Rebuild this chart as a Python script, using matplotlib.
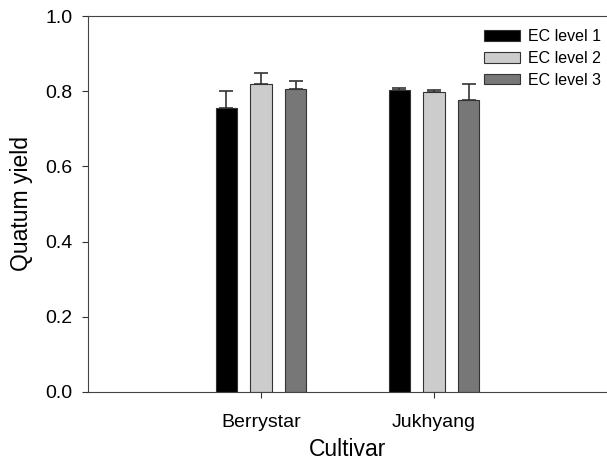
import numpy as np
import matplotlib
matplotlib.use("Agg")
import matplotlib.pyplot as plt

plt.rcParams['font.family'] = ['Liberation Sans', 'DejaVu Sans']

# Du lieu doc tu hinh
cultivars = ["Berrystar", "Jukhyang"]
levels = ["EC level 1", "EC level 2", "EC level 3"]
yield_level1 = [0.756, 0.803]
yield_level2 = [0.820, 0.799]
yield_level3 = [0.807, 0.778]
err_level1 = [0.045, 0.005]
err_level2 = [0.028, 0.004]
err_level3 = [0.020, 0.041]

means = [yield_level1, yield_level2, yield_level3]
errs = [err_level1, err_level2, err_level3]
colors = ["#000000", "#cccccc", "#777777"]

fig = plt.figure(figsize=(6.07, 4.61), dpi=100)
ax = fig.add_axes([0.145, 0.15, 0.855, 0.815])

x = np.arange(len(cultivars))
w = 0.124
for i in range(3):
    pos = x + (i - 1) * 0.2
    ax.bar(pos, means[i], w, color=colors[i], edgecolor="#333333",
           linewidth=0.8, label=levels[i], zorder=2)
    ax.errorbar(pos, means[i], yerr=[np.zeros(len(x)), errs[i]], fmt="none",
                ecolor="#333333", elinewidth=1.2, capsize=5, capthick=1.2, zorder=1)

ax.set_xlim(-1, 2)
ax.set_ylim(0, 1.0)
ax.set_yticks([0.0, 0.2, 0.4, 0.6, 0.8, 1.0])
ax.set_xticks(x)
ax.set_xticklabels(cultivars)
ax.tick_params(axis="both", direction="out", length=4, width=0.8,
               labelsize=14, color="#333333")
ax.tick_params(axis="y", pad=7)
ax.tick_params(axis="x", pad=12)
ax.set_xlabel("Cultivar", fontsize=16.5, labelpad=5)
ax.set_ylabel("Quatum yield", fontsize=16.5, labelpad=9)

ax.spines["right"].set_visible(False)
for s in ["left", "bottom", "top"]:
    ax.spines[s].set_color("#444444")
    ax.spines[s].set_linewidth(0.8)

ax.legend(loc="upper right", frameon=False, fontsize=11.5,
          handlelength=2.3, handleheight=0.62, handletextpad=0.45,
          labelspacing=0.42, borderaxespad=0.0, bbox_to_anchor=(1.0, 0.982))

fig.savefig("out.png", dpi=100)
